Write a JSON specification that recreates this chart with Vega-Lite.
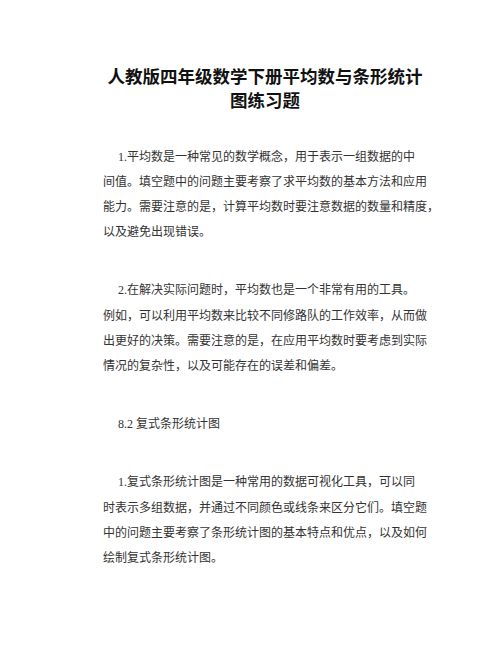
{
  "$schema": "https://vega.github.io/schema/vega-lite/v6.json",
  "autosize": {"type": "fit", "contains": "padding"},
  "width": 502,
  "height": 649,
  "padding": 0,
  "background": "white",
  "config": {"view": {"stroke": null}},
  "data": {
    "values": [
      {"kind": "title", "col": 13.5, "line": 3.08, "text": "人教版四年级数学下册平均数与条形统计"},
      {"kind": "title", "col": 13.5, "line": 4.03, "text": "图练习题"},
      {"kind": "body", "col": 1.25, "line": 6.23, "text": "1.平均数是一种常见的数学概念，用于表示一组数据的中"},
      {"kind": "body", "col": 0, "line": 7.22, "text": "间值。填空题中的问题主要考察了求平均数的基本方法和应用"},
      {"kind": "body", "col": 0, "line": 8.21, "text": "能力。需要注意的是，计算平均数时要注意数据的数量和精度，"},
      {"kind": "body", "col": 0, "line": 9.21, "text": "以及避免出现错误。"},
      {"kind": "body", "col": 1.25, "line": 11.51, "text": "2.在解决实际问题时，平均数也是一个非常有用的工具。"},
      {"kind": "body", "col": 0, "line": 12.54, "text": "例如，可以利用平均数来比较不同修路队的工作效率，从而做"},
      {"kind": "body", "col": 0, "line": 13.53, "text": "出更好的决策。需要注意的是，在应用平均数时要考虑到实际"},
      {"kind": "body", "col": 0, "line": 14.52, "text": "情况的复杂性，以及可能存在的误差和偏差。"},
      {"kind": "body", "col": 1.25, "line": 16.83, "text": "8.2 复式条形统计图"},
      {"kind": "body", "col": 1.25, "line": 19.13, "text": "1.复式条形统计图是一种常用的数据可视化工具，可以同"},
      {"kind": "body", "col": 0, "line": 20.16, "text": "时表示多组数据，并通过不同颜色或线条来区分它们。填空题"},
      {"kind": "body", "col": 0, "line": 21.15, "text": "中的问题主要考察了条形统计图的基本特点和优点，以及如何"},
      {"kind": "body", "col": 0, "line": 22.14, "text": "绘制复式条形统计图。"}
    ]
  },
  "encoding": {
    "x": {"field": "col", "type": "quantitative", "scale": {"domain": [-8.583, 33.25]}, "axis": null},
    "y": {"field": "line", "type": "quantitative", "scale": {"domain": [0, 25.754], "reverse": true}, "axis": null},
    "text": {"field": "text"}
  },
  "layer": [
    {
      "transform": [{"filter": "datum.kind == 'title'"}],
      "mark": {"type": "text", "align": "center", "baseline": "middle", "font": "Noto Sans CJK SC", "fontSize": 17.5, "fontWeight": "bold", "color": "#111"}
    },
    {
      "transform": [{"filter": "datum.kind == 'body'"}],
      "mark": {"type": "text", "align": "left", "baseline": "middle", "font": "Liberation Serif, Noto Sans CJK SC", "fontSize": 12, "color": "#333"}
    }
  ]
}
